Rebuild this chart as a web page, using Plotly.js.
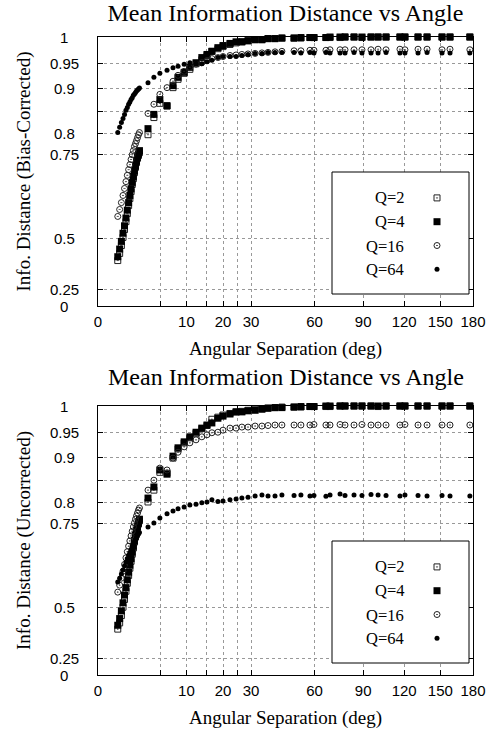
<!DOCTYPE html>
<html><head><meta charset="utf-8">
<script src="https://cdn.plot.ly/plotly-3.0.1.min.js"></script>
<style>html,body{margin:0;padding:0;background:#fff}#chart{width:492px;height:730px}</style>
</head><body><div id="chart"></div>
<script>
// ---- data (angles in degrees, information distance values) ----
const denseAngles = [0.5,0.6,0.7,0.8,0.9,1.0,1.1,1.2,1.3,1.4,1.5,1.6,1.7,1.8,1.9,2.0,2.1,2.2];
const sparseAngles = [3.2,4.0,4.9,6.1,7.2,8.2,9.5,10.8,12.3,13.8,15.2,16.6,18.4,20.0,22.3,24.4,26.5,28.8,31.6,34.4,37.0,40.1,43.3,49.2,52.7,57.5,59.7,66.5,68.9,75.0,78.1,83.9,89.2,95.4,100.4,106.2,116.7,120.6,131.1,138.6,151.5,158.6,177.0];
const seriesNames = ["Q=2","Q=4","Q=16","Q=64"];

// Bias-corrected (top panel)
const corrQ2 = [0.411,0.442,0.474,0.505,0.533,0.560,0.586,0.611,0.632,0.652,0.672,0.688,0.704,0.718,0.730,0.741,0.748,0.755,
  0.798,0.837,0.868,0.862,0.901,0.918,0.930,0.938,0.949,0.957,0.965,0.973,0.978,0.982,0.986,0.989,0.991,0.993,0.995,0.995,
  0.997,0.997,0.998,0.998,0.998,0.999,0.999,0.999,0.999,0.999,1.0,1.0,0.999,1.0,1.0,1.0,1.0,1.0,1.0,1.0,1.0,1.0,1.0];
const corrQ4 = [0.428,0.460,0.490,0.520,0.546,0.572,0.597,0.620,0.641,0.660,0.678,0.694,0.709,0.722,0.734,0.744,0.752,0.760,
  0.812,0.844,0.876,0.863,0.905,0.922,0.932,0.942,0.951,0.961,0.967,0.973,0.980,0.984,0.988,0.991,0.991,0.993,0.995,0.995,
  0.997,0.997,0.998,0.998,0.999,0.999,0.999,0.999,1.0,1.0,1.0,1.0,1.0,1.0,1.0,1.0,1.0,1.0,1.0,1.0,1.0,1.0,1.0];
const corrQ16 = [0.577,0.599,0.620,0.641,0.661,0.680,0.697,0.712,0.725,0.738,0.750,0.760,0.770,0.777,0.784,0.791,0.798,0.803,
  0.846,0.866,0.887,0.901,0.914,0.926,0.934,0.942,0.948,0.951,0.955,0.959,0.961,0.963,0.965,0.966,0.967,0.968,0.969,0.970,
  0.971,0.972,0.973,0.974,0.974,0.975,0.975,0.975,0.976,0.976,0.976,0.976,0.976,0.976,0.977,0.976,0.977,0.976,0.977,0.977,0.976,0.977,0.976];
const corrQ64 = [0.803,0.815,0.826,0.835,0.844,0.853,0.859,0.866,0.871,0.876,0.880,0.885,0.888,0.891,0.894,0.896,0.898,0.900,
  0.911,0.922,0.930,0.936,0.941,0.944,0.948,0.951,0.950,0.949,0.953,0.956,0.961,0.963,0.963,0.963,0.965,0.967,0.969,0.969,
  0.971,0.971,0.971,0.971,0.970,0.971,0.970,0.971,0.970,0.970,0.970,0.971,0.970,0.970,0.970,0.971,0.970,0.970,0.970,0.971,0.970,0.970,0.970];

// Uncorrected (bottom panel)
const rawQ2 = [0.413,0.440,0.470,0.502,0.530,0.558,0.584,0.608,0.630,0.650,0.670,0.687,0.703,0.716,0.729,0.740,0.749,0.757,
  0.802,0.829,0.868,0.866,0.898,0.917,0.929,0.939,0.948,0.957,0.963,0.975,0.979,0.983,0.986,0.989,0.990,0.992,0.994,0.995,
  0.996,0.997,0.998,0.998,0.998,0.999,0.999,0.999,0.999,1.0,1.0,1.0,1.0,1.0,0.999,1.0,1.0,1.0,1.0,1.0,1.0,1.0,1.0];
const rawQ4 = [0.430,0.458,0.488,0.518,0.545,0.570,0.595,0.618,0.639,0.658,0.676,0.692,0.707,0.721,0.733,0.743,0.752,0.761,
  0.811,0.836,0.873,0.864,0.902,0.919,0.931,0.941,0.950,0.958,0.964,0.968,0.977,0.981,0.985,0.989,0.989,0.991,0.992,0.994,
  0.996,0.997,0.997,0.998,0.999,0.999,0.999,1.0,1.0,1.0,1.0,1.0,1.0,1.0,1.0,1.0,1.0,1.0,1.0,1.0,1.0,1.0,1.0];
const rawQ16 = [0.555,0.578,0.600,0.621,0.641,0.660,0.677,0.692,0.706,0.719,0.731,0.742,0.752,0.761,0.769,0.776,0.783,0.788,
  0.829,0.851,0.877,0.873,0.898,0.910,0.921,0.929,0.935,0.941,0.945,0.949,0.950,0.954,0.958,0.958,0.960,0.960,0.962,0.962,
  0.963,0.964,0.964,0.964,0.964,0.964,0.965,0.964,0.964,0.965,0.964,0.964,0.965,0.964,0.964,0.964,0.964,0.965,0.964,0.964,0.964,0.964,0.964];
const rawQ64 = [0.588,0.600,0.613,0.625,0.637,0.648,0.658,0.667,0.675,0.683,0.690,0.697,0.703,0.709,0.714,0.719,0.724,0.728,
  0.742,0.752,0.764,0.774,0.781,0.786,0.790,0.795,0.797,0.800,0.802,0.807,0.803,0.804,0.807,0.809,0.811,0.813,0.816,0.818,
  0.816,0.816,0.818,0.817,0.818,0.816,0.817,0.815,0.818,0.820,0.817,0.818,0.817,0.819,0.818,0.817,0.816,0.818,0.817,0.816,0.817,0.816,0.816];

const xTickVals = [0,5,10,15,20,25,30,60,90,120,150,180];
const xTickText = ["0","","10","","20","","30","60","90","120","150","180"];
const yTickVals = [0,0.25,0.5,0.75,0.8,0.85,0.9,0.95,1];
const yTickText = ["0","0.25","0.5","0.75","0.8","","0.9","0.95","1"];

const chartTitle = "Mean Information Distance vs Angle";
const xTitle = "Angular Separation (deg)";
const yTitles = ["Info. Distance (Bias-Corrected)","Info. Distance (Uncorrected)"];

// ---- scale transforms (sqrt on angle, square on distance) ----
const fx = a => Math.sqrt(a);
const fy = v => v * v;
const angles = denseAngles.concat(sparseAngles);

const markerStyles = [
  {symbol:"square-open-dot", size:6, color:"#222", line:{width:1, color:"#222"}},
  {symbol:"square", size:7, color:"#000", line:{width:0}},
  {symbol:"circle-open-dot", size:6, color:"#222", line:{width:1, color:"#222"}},
  {symbol:"circle", size:5, color:"#000", line:{width:0}}
];
const panels = [[corrQ2,corrQ4,corrQ16,corrQ64],[rawQ2,rawQ4,rawQ16,rawQ64]];

const traces = [];
panels.forEach((series, p) => {
  series.forEach((vals, s) => {
    traces.push({
      type:"scatter", mode:"markers",
      x: angles.map(fx), y: vals.map(fy),
      xaxis: p ? "x2" : "x", yaxis: p ? "y2" : "y",
      name: " ", legend: p ? "legend2" : "legend",
      marker: markerStyles[s], hoverinfo:"skip", cliponaxis:false
    });
  });
});

const serif = "Liberation Serif, Times New Roman, serif";
const sans = "Liberation Sans, Arial, sans-serif";

function xaxisDef(anchor){
  return {
    anchor: anchor, domain:[0,1], range:[0, fx(180)],
    tickmode:"array", tickvals: xTickVals.map(fx), ticktext: xTickText,
    ticks:"inside", ticklen:5, tickcolor:"#000", tickwidth:1,
    showline:true, linecolor:"#000", linewidth:1, mirror:"ticks",
    showgrid:true, gridcolor:"#999", griddash:"dot", gridwidth:1, zeroline:false,
    tickfont:{family:sans, size:15, color:"#000"}, ticklabelstandoff:2,
    title:{text:xTitle, font:{family:serif, size:19, color:"#000"}, standoff:12}
  };
}
function yaxisDef(anchor, domain, title){
  return {
    anchor: anchor, domain: domain, range:[0,1],
    tickmode:"array", tickvals: yTickVals.map(fy), ticktext: yTickText,
    showticklabels:false,
    ticks:"inside", ticklen:5, tickcolor:"#000", tickwidth:1,
    showline:true, linecolor:"#000", linewidth:1, mirror:"ticks",
    showgrid:true, gridcolor:"#999", griddash:"dot", gridwidth:1, zeroline:false,
    title:{text:title, font:{family:serif, size:19, color:"#000"}, standoff:61}
  };
}

const annotations = [];
// second panel title
annotations.push({text: chartTitle, xref:"paper", yref:"paper", x:0.5, y:(675-377)/638,
  xanchor:"center", yanchor:"middle", showarrow:false, font:{family:serif, size:24, color:"#000"}});
// y tick labels (centred, as in the reference)
["y","y2"].forEach(ya => {
  yTickVals.forEach((v,i) => {
    if (!yTickText[i]) return;
    annotations.push({text:yTickText[i], xref:"paper", yref:ya, x:(64-98)/375, y:fy(v),
      xanchor:"center", yanchor:"middle", showarrow:false, font:{family:sans, size:15, color:"#000"}});
  });
});
// legend labels (text left of symbol, as in the reference)
const legRows = [197,221,246,269];
[["x domain","y domain"],["x2 domain","y2 domain"]].forEach(([xa,ya]) => {
  seriesNames.forEach((n,i) => {
    annotations.push({text:n, xref:xa, yref:ya, x:(406-98)/375, y:(306-legRows[i])/269,
      xanchor:"right", yanchor:"middle", showarrow:false, font:{family:serif, size:16.5, color:"#000"}});
  });
});

const shapes = [
  {type:"rect", xref:"x domain", yref:"y domain", x0:(332-98)/375, x1:(469-98)/375,
   y0:(306-294)/269, y1:(306-172)/269, line:{color:"#000", width:1}, fillcolor:"#fff", layer:"above"},
  {type:"rect", xref:"x2 domain", yref:"y2 domain", x0:(332-98)/375, x1:(469-98)/375,
   y0:(306-294)/269, y1:(306-172)/269, line:{color:"#000", width:1}, fillcolor:"#fff", layer:"above"}
];

const legendBase = {
  bgcolor:"rgba(0,0,0,0)", borderwidth:0, font:{family:serif, size:16, color:"#000"},
  xanchor:"left", yanchor:"top", itemsizing:"trace", itemwidth:30, tracegroupgap:0
};

const layout = {
  width:492, height:730,
  margin:{l:98, r:19, t:37, b:55},
  paper_bgcolor:"#fff", plot_bgcolor:"#fff",
  title:{text:chartTitle, font:{family:serif, size:24, color:"#000"}, x:0.5, xref:"paper",
         y:1-13/730, yref:"container", yanchor:"middle"},
  showlegend:true,
  xaxis: xaxisDef("y"),
  yaxis: yaxisDef("x", [(675-306)/638, 1], yTitles[0]),
  xaxis2: xaxisDef("y2"),
  yaxis2: yaxisDef("x2", [0, (675-406)/638], yTitles[1]),
  legend: Object.assign({}, legendBase, {x:(417-98)/375, y:(675-181)/638}),
  legend2: Object.assign({}, legendBase, {x:(417-98)/375, y:(675-550)/638}),
  annotations: annotations,
  shapes: shapes
};

Plotly.newPlot("chart", traces, layout, {staticPlot:true, displayModeBar:false});
</script>
</body></html>
